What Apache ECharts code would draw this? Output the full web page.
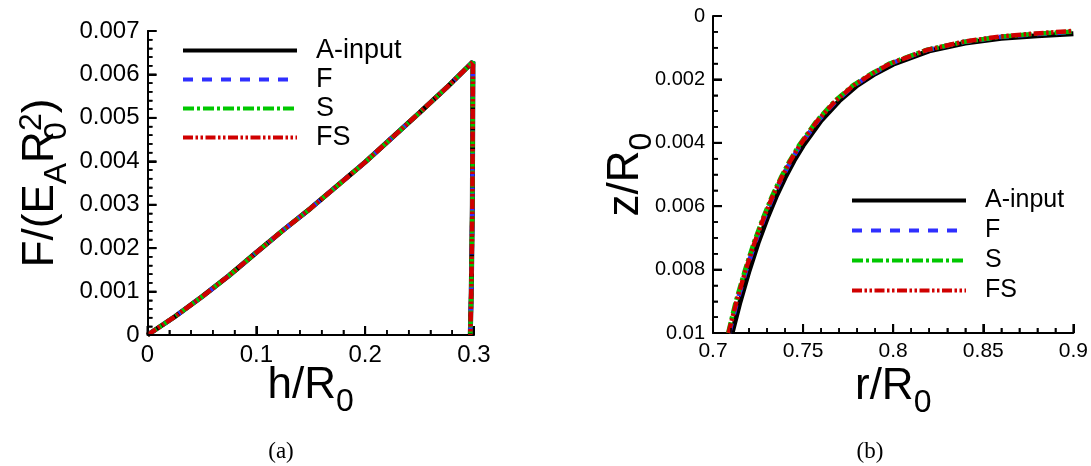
<!DOCTYPE html>
<html><head><meta charset="utf-8">
<script src="https://cdn.jsdelivr.net/npm/echarts@6/dist/echarts.min.js"></script>
<style>
html,body{margin:0;padding:0;background:#fff}
#page{position:relative;width:1091px;height:466px;background:#fff}
#ca{position:absolute;left:0;top:0;width:560px;height:466px}
#cb{position:absolute;left:560px;top:0;width:531px;height:466px}
</style>
</head><body><div id="page"><div id="ca"></div><div id="cb"></div></div>
<script>
// ---- data ----
const seriesNames = ['A-input', 'F', 'S', 'FS'];
// (a) force vs indentation depth: loading, then unloading
const hLoad = [0, 0.025, 0.05, 0.075, 0.1, 0.125, 0.15, 0.175, 0.2, 0.225, 0.25, 0.275, 0.299, 0.2985, 0.2975, 0.2966];
const fLoad = [0, 0.00042, 0.00088, 0.00137, 0.00190, 0.00242, 0.00292, 0.00345, 0.00398, 0.00455, 0.00512, 0.00570, 0.00629, 0.0030, 0.0010, 0];
// (b) profile z/R0 vs r/R0
const rA  = [0.7106, 0.715, 0.72, 0.725, 0.73, 0.735, 0.74, 0.745, 0.75, 0.76, 0.77, 0.78, 0.79, 0.80, 0.82, 0.84, 0.86, 0.88, 0.90];
const zA  = [0.01000, 0.00902, 0.00804, 0.00716, 0.00639, 0.00570, 0.00510, 0.00456, 0.00409, 0.00330, 0.00268, 0.00219, 0.00182, 0.00152, 0.00110, 0.00085, 0.00070, 0.00062, 0.00056];
const rF  = [0.7090, 0.7133, 0.7183, 0.7233, 0.7283, 0.7333, 0.7383, 0.7433, 0.7483, 0.7583, 0.7683, 0.7783, 0.7885, 0.7985, 0.8190, 0.8390, 0.8590, 0.8795, 0.90];
const zF  = [0.01000, 0.00902, 0.00804, 0.00716, 0.00639, 0.00570, 0.00510, 0.00456, 0.00409, 0.00330, 0.00268, 0.00219, 0.00182, 0.00150, 0.00107, 0.00082, 0.00066, 0.00057, 0.00050];
const rS  = [0.7084, 0.7126, 0.7176, 0.7226, 0.7276, 0.7326, 0.7376, 0.7426, 0.7476, 0.7576, 0.7676, 0.7776, 0.7878, 0.7980, 0.8185, 0.8388, 0.8588, 0.8792, 0.90];
const zS  = [0.01000, 0.00902, 0.00804, 0.00716, 0.00639, 0.00570, 0.00510, 0.00456, 0.00409, 0.00330, 0.00268, 0.00219, 0.00182, 0.00150, 0.00107, 0.00082, 0.00066, 0.00056, 0.00049];
const rFS = [0.7086, 0.7130, 0.7180, 0.7230, 0.7280, 0.7330, 0.7380, 0.7430, 0.7480, 0.7580, 0.7680, 0.7780, 0.7882, 0.7983, 0.8188, 0.8390, 0.8590, 0.8793, 0.90];
const zFS = [0.01000, 0.00902, 0.00804, 0.00716, 0.00639, 0.00570, 0.00510, 0.00456, 0.00409, 0.00330, 0.00268, 0.00219, 0.00182, 0.00150, 0.00107, 0.00081, 0.00065, 0.00055, 0.00047];
// tick positions
const hTicks = [0, 0.1, 0.2, 0.3];
const fTicks = [0, 0.001, 0.002, 0.003, 0.004, 0.005, 0.006, 0.007];
const rTicks = [0.7, 0.75, 0.8, 0.85, 0.9];
const zTicks = [0, 0.002, 0.004, 0.006, 0.008, 0.01];

// ---- styles ----
const FONT = 'Liberation Sans';
const colors = ['#000000', '#2f2fff', '#00c800', '#d00000'];
const dashes = ['solid', [10, 9], [11, 3, 3, 3], [10, 2.5, 2.5, 2.5, 2.5, 2.5]];
const widths = [5, 4.5, 4.5, 4.5];

const pairs = (xs, ys) => xs.map((x, i) => [x, ys[i]]);
const profile = [pairs(rA, zA), pairs(rF, zF), pairs(rS, zS), pairs(rFS, zFS)];

const titleRich = {
  m: { fontFamily: FONT, fontSize: 44, lineHeight: 50, color: '#000' },
  s: { fontFamily: FONT, fontSize: 32, lineHeight: 32, padding: [33, 0, 0, 0], color: '#000' },
  z: { fontFamily: FONT, fontSize: 32, lineHeight: 32, padding: [33, 0, 0, 0], width: 0, color: '#000' },
  p: { fontFamily: FONT, fontSize: 32, lineHeight: 32, padding: [0, 0, 16, 0], color: '#000' }
};

function valueAxis(o, labelSize, minorSplit) {
  return Object.assign({
    type: 'value',
    splitLine: { show: false },
    axisLine: { show: true, onZero: false, lineStyle: { color: '#000', width: 2 } },
    axisTick: { show: true, inside: true, length: 9, lineStyle: { color: '#000', width: 2 } },
    minorTick: { show: true, splitNumber: minorSplit, length: 5, lineStyle: { color: '#000', width: 1.5 } },
    axisLabel: { show: true, color: '#000', fontFamily: FONT, fontSize: labelSize, margin: 8 },
    nameLocation: 'middle',
    nameMoveOverlap: false,
    nameTextStyle: { fontFamily: FONT, fontSize: 44, color: '#000', rich: titleRich }
  }, o);
}

// inward tick marks, placed through the axes' own scales (filled thin rects)
function minors(ticks, n) {
  const out = [];
  for (let i = 0; i < ticks.length - 1; i++) {
    const step = (ticks[i + 1] - ticks[i]) / n;
    for (let k = 1; k < n; k++) out.push(ticks[i] + k * step);
  }
  return out;
}
function tickMarks(values, anchor, isX, len, w) {
  return {
    name: 'tick', type: 'custom', silent: true, clip: false, z: 10,
    encode: { x: 0, y: 1 },
    data: values.map(v => isX ? [v, anchor] : [anchor, v]),
    renderItem: function (params, api) {
      const p = api.coord([api.value(0), api.value(1)]);
      const shape = isX
        ? { x: p[0] - w / 2, y: p[1] - len, width: w, height: len }
        : { x: p[0], y: p[1] - w / 2, width: len, height: w };
      return { type: 'rect', shape: shape, style: { fill: '#000' } };
    }
  };
}
function allTicks(xT, xN, yT, yN, xAnchor, yAnchor) {
  return [
    tickMarks(xT, yAnchor, true, 9, 2),
    tickMarks(minors(xT, xN), yAnchor, true, 5, 1.5),
    tickMarks(yT, xAnchor, false, 9, 2),
    tickMarks(minors(yT, yN), xAnchor, false, 5, 1.5)
  ];
}

function makeSeries(dataFor) {
  return seriesNames.map((n, i) => ({
    name: n, type: 'line', symbol: 'none',
    data: dataFor(i),
    lineStyle: { color: colors[i], width: widths[i], type: dashes[i] },
    itemStyle: { color: colors[i] }, z: 2 + i
  }));
}

function legendAt(left, top, fontSize, gap) {
  return {
    data: seriesNames, orient: 'vertical', selectedMode: false,
    left: left, top: top, itemWidth: 114, itemHeight: 16, itemGap: gap,
    itemStyle: { opacity: 0 },
    lineStyle: { width: 4 },
    textStyle: { fontFamily: FONT, fontSize: fontSize, color: '#000', padding: [0, 0, 0, 14] }
  };
}

function caption(x, text) {
  return { type: 'text', x: x, y: 452, style: { text: text, fontFamily: 'Liberation Serif', fontSize: 23, fill: '#000', align: 'center', verticalAlign: 'middle' } };
}

// ---- panel (a) ----
const optionA = {
  animation: false,
  grid: { left: 147, top: 31, width: 327, height: 304 },
  xAxis: valueAxis({ min: 0, max: 0.3, interval: 0.1, name: '{m|h/R}{s|0}', nameGap: 26 }, 24, 5),
  yAxis: valueAxis({ min: 0, max: 0.007, interval: 0.001, name: '{m|F/(E}{s|A}{m|R}{z|0}{p|2}{m|)}', nameGap: 82 }, 24, 5),
  legend: legendAt(176, 32, 27, 2),
  graphic: [caption(281, '(a)')],
  series: makeSeries(() => pairs(hLoad, fLoad)).concat(allTicks(hTicks, 5, fTicks, 5, hTicks[0], fTicks[0]))
};

// ---- panel (b) ----
const optionB = {
  animation: false,
  grid: { left: 153, top: 16, width: 363, height: 317 },
  xAxis: valueAxis({ min: 0.7, max: 0.9, interval: 0.05, name: '{m|r/R}{s|0}', nameGap: 29 }, 21, 5),
  yAxis: valueAxis({ min: 0, max: 0.01, interval: 0.002, inverse: true, name: '{m|z/R}{s|0}', nameGap: 62 }, 20, 4),
  legend: legendAt(285, 183, 25, 5),
  graphic: [caption(310, '(b)')],
  series: makeSeries(i => profile[i]).concat(allTicks(rTicks, 5, zTicks, 4, rTicks[0], zTicks[zTicks.length - 1]))
};

echarts.init(document.getElementById('ca')).setOption(optionA);
echarts.init(document.getElementById('cb')).setOption(optionB);
</script>
</body></html>
